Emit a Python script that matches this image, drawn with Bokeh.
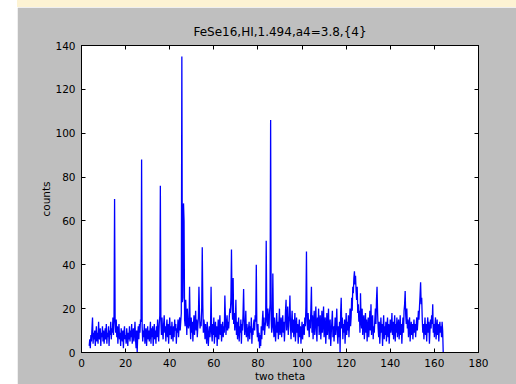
from bokeh.plotting import figure
from bokeh.models import LinearAxis, SingleIntervalTicker, CustomJSTickFormatter, Spacer, Div
from bokeh.layouts import row, column
from bokeh.embed import file_html
from bokeh.resources import INLINE

title_text = "FeSe16,HI,1.494,a4=3.8,{4}"
x_label = "two theta"
y_label = "counts"
x_ticks_interval = 20
y_ticks_interval = 20

# scan grid (degrees two theta)
theta_start = 3.5
theta_step = 0.25

counts_a = [3, 6, 2, 8, 5, 11, 16, 4, 9, 6,
            10, 3, 8, 12, 5, 9, 4, 14, 7, 6,
            11, 3, 9, 7, 12, 5, 10, 4, 8, 11,
            6, 13, 4, 9, 7, 12, 3, 10, 8, 14,
            6, 11, 9, 16, 8, 17, 70, 14, 9, 15,
            7, 12, 4, 10, 13, 6, 9, 3, 11, 8,
            5, 10, 2, 9, 12, 6, 8, 4, 11, 7,
            3, 9, 6, 12, 5, 10, 7, 13, 4, 8]
counts_b = [11, 5, 9, 14, 6, 2, 10, 0, 8, 12,
            6, 13, 9, 15, 14, 88, 12, 5, 10, 7,
            13, 4, 9, 11, 3, 8, 12, 6, 10, 5,
            9, 14, 4, 11, 7, 12, 3, 8, 13, 6,
            10, 4, 12, 7, 15, 9, 5, 13, 17, 76,
            14, 8, 16, 10, 6, 13, 17, 9, 12, 5,
            11, 15, 7, 13, 4, 10, 16, 8, 12, 6,
            14, 9, 5, 12, 7, 15, 10, 13, 4, 11]
counts_c = [9, 15, 7, 12, 16, 10, 14, 18, 135, 23,
            25, 68, 60, 15, 12, 24, 17, 8, 20, 14,
            11, 13, 30, 13, 6, 16, 9, 14, 5, 12,
            17, 8, 13, 19, 10, 15, 7, 12, 16, 30,
            18, 11, 14, 12, 20, 48, 22, 9, 15, 12,
            6, 13, 9, 4, 14, 10, 3, 8, 12, 7,
            11, 30, 9, 5, 13, 8, 16, 4, 10, 14,
            7, 12, 3, 9, 15, 6, 11, 17, 8, 13]
counts_d = [5, 10, 14, 7, 12, 9, 26, 16, 8, 13,
            17, 10, 14, 11, 16, 20, 18, 25, 47, 22,
            15, 34, 13, 18, 10, 14, 24, 8, 14, 6,
            11, 16, 5, 12, 9, 15, 4, 13, 10, 18,
            29, 14, 8, 12, 19, 7, 13, 10, 5, 11,
            14, 6, 12, 9, 16, 4, 11, 8, 13, 15,
            10, 17, 14, 40, 12, 7, 13, 5, 9, 2,
            8, 3, 12, 6, 14, 19, 10, 16, 8, 12]
counts_e = [14, 51, 17, 12, 20, 15, 11, 18, 22, 106,
            15, 9, 12, 36, 13, 7, 16, 10, 5, 12,
            18, 9, 14, 6, 13, 20, 8, 11, 16, 7,
            12, 17, 9, 14, 5, 11, 19, 24, 10, 15,
            21, 8, 13, 17, 26, 12, 6, 14, 19, 9,
            15, 7, 12, 18, 5, 11, 16, 9, 13, 4,
            10, 15, 7, 12, 4, 9, 14, 6, 11, 13,
            8, 16, 12, 21, 46, 14, 10, 18, 12, 7]
counts_f = [15, 11, 20, 30, 9, 17, 6, 13, 19, 8,
            14, 21, 10, 5, 16, 12, 20, 8, 13, 17,
            6, 11, 19, 9, 14, 21, 7, 12, 16, 4,
            10, 18, 8, 13, 20, 6, 11, 15, 3, 9,
            14, 19, 7, 12, 5, 10, 16, 8, 13, 20,
            9, 4, 12, 7, 14, 0, 18, 25, 11, 16,
            6, 13, 9, 15, 4, 11, 18, 8, 14, 10,
            17, 7, 13, 20, 12, 16, 25, 19, 30, 27]
counts_g = [34, 37, 31, 35, 28, 24, 30, 18, 22, 14,
            19, 9, 27, 15, 11, 20, 8, 14, 17, 6,
            12, 18, 9, 15, 5, 11, 16, 7, 13, 19,
            10, 22, 8, 14, 17, 6, 12, 9, 15, 20,
            13, 24, 30, 18, 11, 7, 14, 4, 10, 16,
            9, 13, 3, 11, 17, 6, 12, 8, 14, 5,
            11, 16, 7, 13, 4, 10, 15, 9, 12, 18,
            8, 14, 6, 11, 17, 5, 13, 9, 16, 7]
counts_h = [12, 15, 6, 10, 17, 8, 13, 4, 11, 16,
            9, 19, 22, 28, 17, 13, 20, 11, 15, 7,
            12, 16, 5, 10, 14, 8, 13, 6, 11, 15,
            9, 13, 7, 12, 16, 10, 14, 19, 15, 21,
            26, 32, 22, 25, 15, 9, 13, 6, 11, 16,
            8, 13, 5, 12, 16, 9, 14, 4, 10, 15,
            11, 17, 13, 22, 9, 13, 7, 12, 16, 6,
            10, 15, 8, 13, 5, 11, 14, 9, 12, 7,
            14, 10, 0]

counts = counts_a + counts_b + counts_c + counts_d + counts_e + counts_f + counts_g + counts_h
theta = [theta_start + theta_step * i for i in range(len(counts))]

FONT = "DejaVu Sans"
GREY = "#bfbfbf"
CREAM = "#fdf3d3"

p = figure(width=499, height=377, x_range=(0, 180), y_range=(0, 140),
           output_backend="svg", toolbar_location=None, title=title_text,
           min_border_left=64, min_border_right=38, min_border_top=38,
           min_border_bottom=32)
p.border_fill_color = GREY
p.background_fill_color = "white"
p.outline_line_color = "black"
p.outline_line_width = 1
p.grid.visible = False

p.title.text_font = FONT
p.title.text_font_size = "12px"
p.title.text_font_style = "normal"
p.title.text_color = "black"
p.title.align = "center"
p.title.standoff = 5

p.line(theta, counts, color="#0000ff", line_width=1.3)

def style_axis(ax, interval, labels=True):
    ax.ticker = SingleIntervalTicker(interval=interval)
    ax.minor_tick_line_color = None
    ax.major_tick_in = 4
    ax.major_tick_out = 0
    ax.major_tick_line_color = "black"
    ax.axis_line_color = "black"
    ax.major_label_text_font = FONT
    ax.major_label_text_font_size = "10.5px"
    ax.major_label_text_color = "black"
    ax.axis_label_text_font = FONT
    ax.axis_label_text_font_size = "10.5px"
    ax.axis_label_text_font_style = "normal"
    ax.axis_label_text_color = "black"
    if not labels:
        ax.formatter = CustomJSTickFormatter(code="return ''")
        ax.major_label_standoff = 0

xa = p.xaxis[0]
style_axis(xa, x_ticks_interval)
xa.axis_label = x_label
xa.major_label_standoff = 2
xa.axis_label_standoff = 0

ya = p.yaxis[0]
style_axis(ya, y_ticks_interval)
ya.axis_label = y_label
ya.major_label_standoff = 2
ya.axis_label_standoff = 0

top = LinearAxis()
style_axis(top, x_ticks_interval, labels=False)
p.add_layout(top, "above")

right = LinearAxis()
style_axis(right, y_ticks_interval, labels=False)
p.add_layout(right, "right")

strip = Div(text="", width=499, height=7,
            styles={"background-color": CREAM, "margin": "0", "padding": "0"})
left_pad = Spacer(width=17, height=384)
layout = row(left_pad, column(strip, p, spacing=0), spacing=0)

open("out.html", "w").write(file_html(layout, INLINE))
